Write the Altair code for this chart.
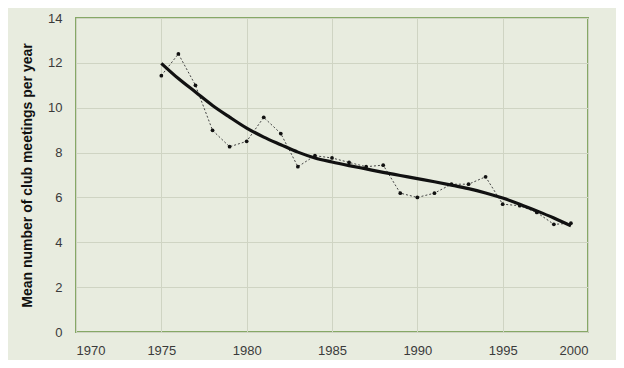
import altair as alt
import pandas as pd

years = list(range(1975, 2000))
observed = [11.43, 12.4, 11.0, 8.99, 8.26, 8.5, 9.57, 8.85, 7.37, 7.86,
            7.76, 7.56, 7.37, 7.44, 6.19, 6.0, 6.19, 6.59, 6.59, 6.92,
            5.7, 5.63, 5.33, 4.8, 4.85]
trend = [11.98, 11.3, 10.7, 10.1, 9.58, 9.09, 8.69, 8.35, 8.02, 7.76,
         7.58, 7.42, 7.27, 7.12, 6.98, 6.84, 6.7, 6.55, 6.39, 6.2,
         5.97, 5.7, 5.4, 5.08, 4.73]
x_ticks = [1970, 1975, 1980, 1985, 1990, 1995, 2000]
y_ticks = [0, 2, 4, 6, 8, 10, 12, 14]

df = pd.DataFrame({"year": years, "observed": observed, "trend": trend})

BG = "#e8ecdf"
FONT = "Liberation Sans"

x_enc = alt.X("year:Q", scale=alt.Scale(domain=[1970, 2000], nice=False, zero=False),
              axis=alt.Axis(values=x_ticks, format="d", title=None, labelFontSize=13,
                            labelColor="#3a3a3a", labelPadding=12, ticks=False,
                            domain=False, gridColor="#cfd4c3", gridWidth=1, labelFont=FONT))

base = alt.Chart(df)

obs_line = base.mark_line(color="#444444", strokeWidth=1, strokeDash=[2, 2]).encode(
    x=x_enc,
    y=alt.Y("observed:Q", scale=alt.Scale(domain=[0, 14], nice=False),
            axis=alt.Axis(values=y_ticks, title="Mean number of club meetings per year",
                          titleFontSize=14, titleFontWeight="bold", titleColor="#111111",
                          titleFont=FONT, titlePadding=13, labelFontSize=13,
                          labelColor="#3a3a3a", labelPadding=14, ticks=False, domain=False,
                          gridColor="#cfd4c3", gridWidth=1, labelFont=FONT)),
)
obs_pts = base.mark_circle(color="#111111", size=14, opacity=1).encode(
    x="year:Q", y="observed:Q"
)
trend_line = base.mark_line(color="#111111", strokeWidth=3.2, interpolate="monotone").encode(
    x="year:Q", y="trend:Q"
)

chart = (obs_line + obs_pts + trend_line).properties(
    width=512, height=314, autosize="none",
    padding={"left": 68, "top": 10, "right": 28, "bottom": 28},
    background=BG,
).configure_view(stroke="#86a866", strokeWidth=2, fill=BG)

chart.save("out.html", embed_options={"renderer": "svg", "actions": False})
